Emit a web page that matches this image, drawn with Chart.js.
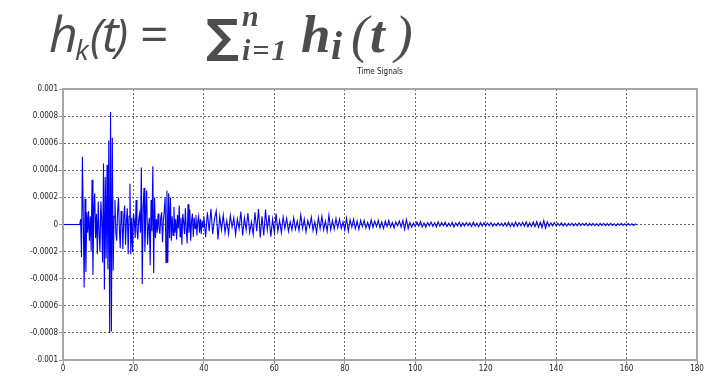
<!DOCTYPE html>
<html>
<head>
<meta charset="utf-8">
<script src="https://cdn.jsdelivr.net/npm/chart.js@4.4.1/dist/chart.umd.min.js"></script>
<style>
  html, body { margin: 0; padding: 0; background: #fff; }
  #wrap { position: relative; width: 709px; height: 379px; overflow: hidden; }
  #chart { position: absolute; left: 0; top: 0; }
  #formula { position: absolute; left: 0; top: -1px; display: flex; align-items: baseline; color: #4d4d4d; white-space: nowrap; }
  #formula span { flex: none; display: inline-block; position: relative; }
  .it { font-family: 'Open Sans', sans-serif; font-style: italic; font-weight: 500; font-size: 50px; }
  .up { font-family: 'Open Sans', sans-serif; font-weight: 500; font-size: 50px; }
  .sym { font-family: 'DejaVu Sans', sans-serif; font-weight: bold; font-size: 46px; }
  .bi { font-family: 'Liberation Serif', serif; font-style: italic; font-weight: bold; font-size: 53px; }
  .sub { font-size: 30px; top: 8px; }
  .sup { font-size: 30px; top: -26px; }
</style>
</head>
<body>
<div id="wrap">
  <canvas id="chart" width="709" height="379"></canvas>
  <div id="formula">
    <span class="it" style="margin-left:49px;width:26px">h</span>
    <span class="it sub" style="width:15px;font-size:28px">k</span>
    <span class="it" style="width:12px;font-size:46px">(</span>
    <span class="it" style="width:13px">t</span>
    <span class="it" style="width:25px;font-size:46px">)</span>
    <span class="up" style="width:66px">=</span>
    <span class="sym" style="width:36px">∑</span>
    <span class="bi sup" style="width:0">n</span>
    <span class="bi sub" style="width:59px;letter-spacing:2px">i=1</span>
    <span class="bi" style="width:30px">h</span>
    <span class="bi sub" style="width:20px;font-size:40px;top:7px">i</span>
    <span class="bi" style="width:19px;font-weight:normal">(</span>
    <span class="bi" style="width:25px">t</span>
    <span class="bi" style="font-weight:normal">)</span>
  </div>
</div>
<script>
const chartTitle = 'Time Signals';
const xTickLabels = ['0', '20', '40', '60', '80', '100', '120', '140', '160', '180'];
const yTickLabels = ['-0.001', '-0.0008', '-0.0006', '-0.0004', '-0.0002', '0',
                     '0.0002', '0.0004', '0.0006', '0.0008', '0.001'];

// amplitudes in units of 1e-6
// onset: t = 0 .. 40, every 0.25
const onsetStep = 0.25;
const onsetSignal = [
  0, 0, 0, 0, 0, 0, 0, 0, 0, 0, 0, 0, 0, 0, 0, 0, 0, 0, 0, 0,
  40, -240, 500, 60, -465, 190, -350, 90, -60, 100, -120, 60, -200, 330, -370, 80, 230, -100, 80, -220,
  170, -60, -200, 170, 40, -280, 450, -480, 350, -250, 440, -330, 620, -800, 830, -790, 640, -340, 60, 180,
  -60, -120, 90, 200, -30, -175, 100, 20, -180, 60, 140, -150, 30, 120, -220, 60, 300, -220, 50, -200,
  80, 30, -100, 180, -40, -110, 40, 80, -60, 420, -440, 120, 270, -200, 60, 250, -150, -30, 50, -300,
  180, -50, 430, -360, 200, -100, 40, -60, 80, -20, -70, 50, 90, -130, 30, 100, 200, -280, 250, -280,
  230, -100, 200, -120, 60, -80, 130, -60, 40, -110, 70, -30, 140, -90, 50, -150, 80, 20, -70, 120,
  -40, -140, 150, -60, 110, -120, 30, 80, -90, 50, -30, 70, -80, 20, 60, -60, 40, -70, 30, -20,
  60
];

// tail: t = 40.5 .. 163, every 0.5
const tailStart = 40.5;
const tailStep = 0.5;
const tailSignal = [
  -93, 90, -50, 116, -70, 40, 100, -110, 60, -40,
  70, -60, 30, -69, 66, -20, 50, -75, 40, -30,
  96, -80, 50, -40, 85, -60, 20, -75, 90, -50,
  115, -95, 60, -80, 110, -40, 70, -90, 40, -60,
  80, -50, 30, -60, 55, -30, 45, -50, 20, -40,
  50, -35, 25, -45, 70, -30, 40, -55, 30, -20,
  55, -45, 20, -60, 50, -30, 60, -40, 25, -50,
  70, -40, 30, -35, 45, -25, 40, -30, 20, -40,
  45, -50, 35, -20, 40, -30, 25, -35, 30, -15,
  30, -25, 15, -30, 35, -20, 25, -15, 30, -25,
  20, -30, 25, -15, 30, -20, 15, -25, 20, -10,
  25, -20, 30, -35, 35, -30, 15, -20, 10, -15,
  18, -12, 22, -18, 12, -20, 14, -10, 18, -14,
  12, -18, 20, -12, 15, -10, 18, -14, 10, -12,
  15, -18, 12, -10, 16, -14, 11, -12, 14, -8,
  12, -14, 18, -12, 10, -16, 14, -11, 12, -10,
  11, -9, 14, -12, 8, -10, 12, -8, 10, -11,
  14, -12, 18, -14, 11, -16, 18, -12, 14, -10,
  16, -14, 20, -17, 12, -14, 18, -16, 22, -20,
  17, -24, 30, -27, 20, -14, 12, -10, 14, -11,
  10, -8, 12, -10, 9, -11, 8, -7, 10, -9,
  8, -10, 11, -8, 9, -7, 10, -9, 8, -7,
  9, -8, 7, -10, 8, -6, 9, -8, 7, -7,
  8, -7, 6, -8, 7, -6, 8, -7, 6, -5,
  7, -6, 5, -7, 5, -3
];

const points = [
  ...onsetSignal.map((v, i) => ({ x: i * onsetStep, y: v * 1e-6 })),
  ...tailSignal.map((v, i) => ({ x: tailStart + i * tailStep, y: v * 1e-6 }))
];

const tickFont = { family: "'Liberation Sans Narrow', 'DejaVu Sans Condensed', 'Liberation Sans', sans-serif", size: 8 };

const framePlugin = {
  id: 'frameAndTitle',
  afterDraw(chart) {
    const { ctx, chartArea: a } = chart;
    ctx.save();
    ctx.strokeStyle = '#a6a6a6';
    ctx.lineWidth = 2;
    ctx.strokeRect(a.left, a.top, a.right - a.left, a.bottom - a.top);
    ctx.font = "8px 'Liberation Sans Narrow', 'DejaVu Sans Condensed', sans-serif";
    ctx.fillStyle = '#222';
    ctx.textAlign = 'center';
    ctx.textBaseline = 'alphabetic';
    ctx.fillText(chartTitle, (a.left + a.right) / 2, 74);
    ctx.restore();
  }
};

new Chart(document.getElementById('chart').getContext('2d'), {
  type: 'line',
  data: {
    datasets: [{
      data: points,
      borderColor: '#0000ff',
      borderWidth: 1.1,
      pointRadius: 0,
      tension: 0,
      fill: false
    }]
  },
  options: {
    responsive: false,
    animation: false,
    parsing: false,
    layout: { padding: { top: 89, right: 12, left: 0, bottom: 0 } },
    plugins: { legend: { display: false }, tooltip: { enabled: false } },
    scales: {
      x: {
        type: 'linear',
        min: 0,
        max: 180,
        afterFit: s => { s.height = 19; },
        ticks: {
          stepSize: 20, autoSkip: false, maxRotation: 0, padding: 0,
          color: '#222', font: tickFont,
          callback: (v, i) => xTickLabels[i]
        },
        grid: { color: '#666', tickColor: '#999', tickLength: 4 },
        border: { display: true, color: '#a6a6a6', width: 2, dash: [2, 2] }
      },
      y: {
        type: 'linear',
        min: -0.001,
        max: 0.001,
        afterFit: s => { s.width = 63; },
        ticks: {
          stepSize: 0.0002, autoSkip: false, padding: 1,
          color: '#222', font: tickFont,
          callback: (v, i) => yTickLabels[i]
        },
        grid: { color: '#666', tickColor: '#999', tickLength: 4 },
        border: { display: true, color: '#a6a6a6', width: 2, dash: [2, 2] }
      }
    }
  },
  plugins: [framePlugin]
});
</script>
</body>
</html>
